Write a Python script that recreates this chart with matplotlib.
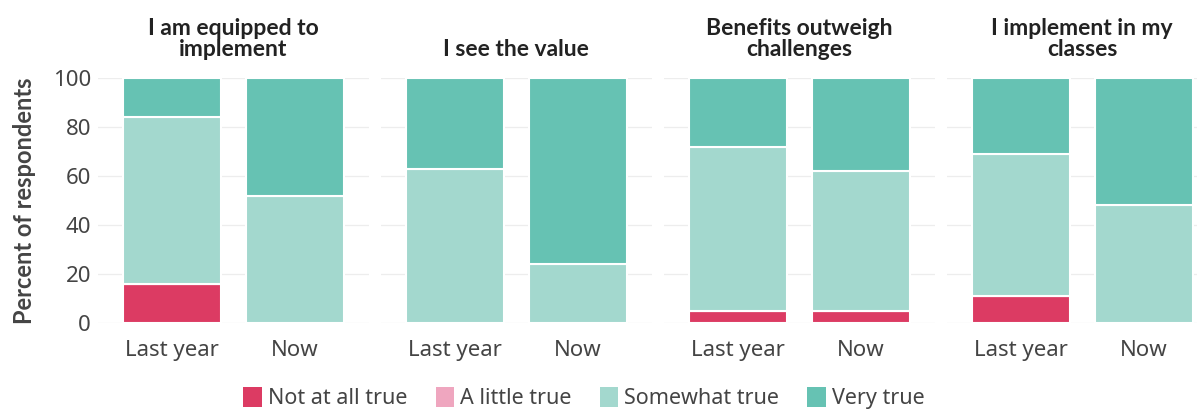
import matplotlib
matplotlib.use('Agg')
import matplotlib.pyplot as plt
import matplotlib.patches as mpatches

# data
panels = ['I am equipped to\nimplement', 'I see the value',
          'Benefits outweigh\nchallenges', 'I implement in my\nclasses']
periods = ['Last year', 'Now']
levels = ['Not at all true', 'A little true', 'Somewhat true', 'Very true']
not_at_all = [[16, 0], [0, 0], [5, 5], [11, 0]]
a_little = [[0, 0], [0, 0], [0, 0], [0, 0]]
somewhat = [[68, 52], [63, 24], [67, 57], [58, 48]]
very_true = [[16, 48], [37, 76], [28, 38], [31, 52]]
yticks = [0, 20, 40, 60, 80, 100]

colors = ['#DC3B63', '#EFA6BF', '#A3D8CE', '#66C2B3']
TXT = '#444444'
plt.rcParams['font.family'] = ['Noto Sans', 'DejaVu Sans']
BOLD = ['Lato', 'DejaVu Sans']

W, H = 1197, 411
fig = plt.figure(figsize=(W / 100, H / 100), dpi=100)
fig.patch.set_facecolor('white')

unit = 123.0          # px between bar centres
ax_w = 2.2 * unit     # xlim -0.6..1.6
first_left = 98
pitch = 283
bottom_px, top_px = 323, 78

series = [not_at_all, a_little, somewhat, very_true]
for i, title in enumerate(panels):
    left = first_left + i * pitch
    ax = fig.add_axes([left / W, 1 - bottom_px / H, ax_w / W, (bottom_px - top_px) / H])
    ax.set_xlim(-0.6, 1.6)
    ax.set_ylim(0, 100)
    ax.set_yticks(yticks)
    for y in yticks:
        ax.axhline(y, color='#EDEDED', lw=0.9, zorder=0)
    base = [0, 0]
    for s, col in zip(series, colors):
        vals = s[i]
        ax.bar([0, 1], vals, width=0.8, bottom=base, color=col,
               edgecolor='white', linewidth=1.5, zorder=2)
        base = [b + v for b, v in zip(base, vals)]
    for sp in ax.spines.values():
        sp.set_visible(False)
    ax.set_xticks([0, 1])
    ax.set_xticklabels(periods, fontsize=16, color=TXT)
    ax.tick_params(axis='x', length=0, pad=12)
    ax.tick_params(axis='y', length=0, pad=5)
    if i == 0:
        ax.set_yticklabels([str(t) for t in yticks], fontsize=16, color=TXT)
        ax.set_ylabel('Percent of respondents', fontsize=17, fontweight='bold',
                      family=BOLD, color=TXT, labelpad=12)
    else:
        ax.set_yticklabels([])
    ax.text(0.5, 1 + 18 / (bottom_px - top_px), title, transform=ax.transAxes,
            ha='center', va='bottom', fontsize=16.5, fontweight='bold',
            family=BOLD, color='#222222', linespacing=1.02)

handles = [mpatches.Patch(facecolor=c, edgecolor='none', label=l)
           for c, l in zip(colors, levels)]
fig.legend(handles=handles, loc='center', bbox_to_anchor=(584 / W, 1 - 398 / H),
           ncol=4, frameon=False, fontsize=15.5, handlelength=0.85, handleheight=1.1,
           handletextpad=0.3, columnspacing=1.3, labelcolor=TXT)

fig.savefig('out.png', dpi=100, facecolor='white')
